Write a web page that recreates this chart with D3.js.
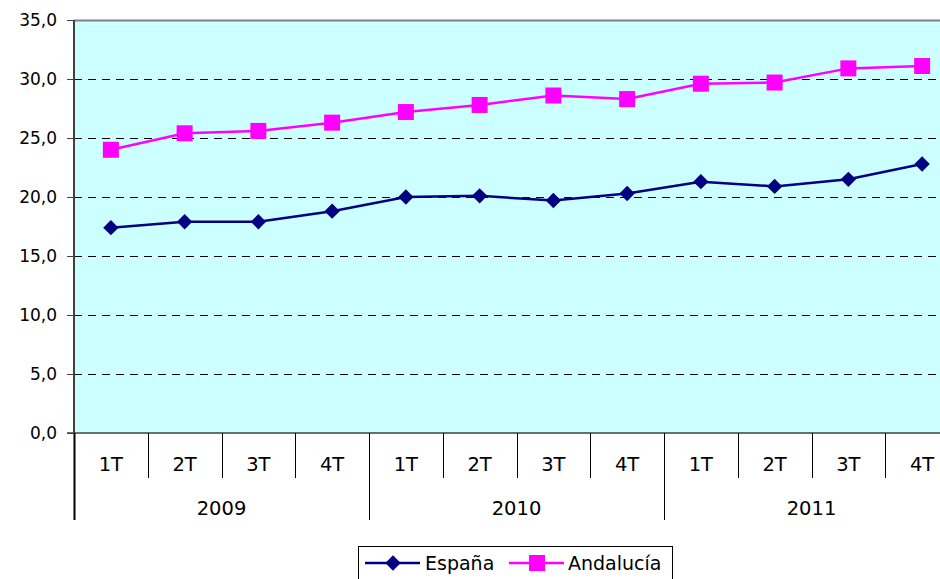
<!DOCTYPE html>
<html lang="es">
<head>
<meta charset="utf-8">
<title>España / Andalucía</title>
<script src="https://d3js.org/d3.v7.min.js"></script>
<style>
  body { margin: 0; background: #fff; }
  svg text { font-family: "DejaVu Sans", sans-serif; fill: #000; }
</style>
</head>
<body>
<div id="chart"></div>
<script>
var years = ['2009', '2010', '2011'];
var quarters = ['1T', '2T', '3T', '4T'];
var espana = [17.4, 17.9, 17.9, 18.8, 20.0, 20.1, 19.7, 20.3, 21.3, 20.9, 21.5, 22.8];
var andalucia = [24.0, 25.4, 25.6, 26.3, 27.2, 27.8, 28.6, 28.3, 29.6, 29.7, 30.9, 31.1];
var yTicks = [0, 5, 10, 15, 20, 25, 30, 35];

var W = 940, H = 579;
var pLeft = 74, pTop = 20, pBottom = 433, pRight = 959;

var cats = [];
years.forEach(function(yr) { quarters.forEach(function(q) { cats.push(yr + '-' + q); }); });

var svg = d3.select('#chart').append('svg')
  .attr('width', W).attr('height', H);

var x = d3.scaleBand().domain(cats).range([pLeft, pRight]);
var y = d3.scaleLinear().domain([0, 35]).range([pBottom, pTop]);

// plot background
svg.append('rect')
  .attr('x', pLeft).attr('y', pTop)
  .attr('width', pRight - pLeft).attr('height', pBottom - pTop)
  .attr('fill', '#ccffff');

// gridlines
svg.selectAll('.grid').data(yTicks.filter(function(d) { return d > 0 && d < 35; }))
  .enter().append('line')
  .attr('x1', pLeft).attr('x2', pRight)
  .attr('y1', function(d) { return Math.round(y(d)) + 0.5; })
  .attr('y2', function(d) { return Math.round(y(d)) + 0.5; })
  .attr('stroke', '#000').attr('stroke-width', 1)
  .attr('stroke-dasharray', '8,6');

// top border
svg.append('line')
  .attr('x1', pLeft).attr('x2', pRight).attr('y1', pTop + 0.5).attr('y2', pTop + 0.5)
  .attr('stroke', '#808080').attr('stroke-width', 2);

// y axis
var yAxis = d3.axisLeft(y).tickValues(yTicks).tickSize(7).tickPadding(10)
  .tickFormat(function(d) { return d3.format('.1f')(d).replace('.', ','); });
var gy = svg.append('g').attr('transform', 'translate(' + pLeft + ',0)').call(yAxis);
gy.attr('font-family', null);
gy.select('.domain').attr('stroke', '#404040').attr('stroke-width', 2).attr('d', 'M0,' + pTop + 'V' + pBottom);
gy.selectAll('.tick line').attr('stroke', '#404040');
gy.selectAll('.tick text').style('font-size', '17px');

// x axis baseline
svg.append('line')
  .attr('x1', pLeft - 7).attr('x2', pRight).attr('y1', pBottom).attr('y2', pBottom)
  .attr('stroke', '#404040').attr('stroke-width', 1.5);

// category separators + quarter labels
var bw = x.bandwidth();
cats.forEach(function(c, i) {
  var xs = Math.round(x(c)) + 0.5;
  var isLong = (i % 4 === 0);
  svg.append('line')
    .attr('x1', xs).attr('x2', xs)
    .attr('y1', pBottom).attr('y2', isLong ? 520 : 478)
    .attr('stroke', '#000').attr('stroke-width', isLong && i === 0 ? 2 : 1);
  svg.append('text')
    .attr('x', x(c) + bw / 2).attr('y', 471)
    .attr('text-anchor', 'middle')
    .style('font-size', '19.5px')
    .text(quarters[i % 4]);
});

years.forEach(function(yr) {
  var x0 = x(yr + '-1T'), x1 = x(yr + '-4T') + bw;
  svg.append('text')
    .attr('x', (x0 + x1) / 2).attr('y', 515)
    .attr('text-anchor', 'middle')
    .style('font-size', '19.5px')
    .text(yr);
});

// series
var line = d3.line()
  .x(function(d, i) { return x(cats[i]) + bw / 2; })
  .y(function(d) { return y(d); });

var series = [
  { name: 'España', data: espana, color: '#000080', shape: 'diamond' },
  { name: 'Andalucía', data: andalucia, color: '#ff00ff', shape: 'square' }
];

var diamond = d3.symbol().type(d3.symbolDiamond2).size(150);
var square = 'M-8,-8H8V8H-8Z';

series.forEach(function(s) {
  svg.append('path').datum(s.data)
    .attr('d', line)
    .attr('fill', 'none')
    .attr('stroke', s.color).attr('stroke-width', 2.5);
  svg.selectAll('.pt-' + s.shape).data(s.data).enter()
    .append('path')
    .attr('transform', function(d, i) {
      return 'translate(' + (x(cats[i]) + bw / 2) + ',' + y(d) + ')';
    })
    .attr('d', s.shape === 'diamond' ? diamond() : square)
    .attr('fill', s.color);
});

// legend
var lg = svg.append('g');
lg.append('rect')
  .attr('x', 358.5).attr('y', 546.5).attr('width', 314).attr('height', 40)
  .attr('fill', '#fff').attr('stroke', '#000').attr('stroke-width', 1);
var ly = 563;
var lx = [365, 509];
var tx = [425, 568];
series.forEach(function(s, i) {
  lg.append('line')
    .attr('x1', lx[i]).attr('x2', lx[i] + 55).attr('y1', ly).attr('y2', ly)
    .attr('stroke', s.color).attr('stroke-width', 2.5);
  lg.append('path')
    .attr('transform', 'translate(' + (lx[i] + 28) + ',' + ly + ')')
    .attr('d', s.shape === 'diamond' ? diamond() : square)
    .attr('fill', s.color);
  lg.append('text')
    .attr('x', tx[i]).attr('y', ly + 7)
    .style('font-size', '19px')
    .text(s.name);
});
</script>
</body>
</html>
